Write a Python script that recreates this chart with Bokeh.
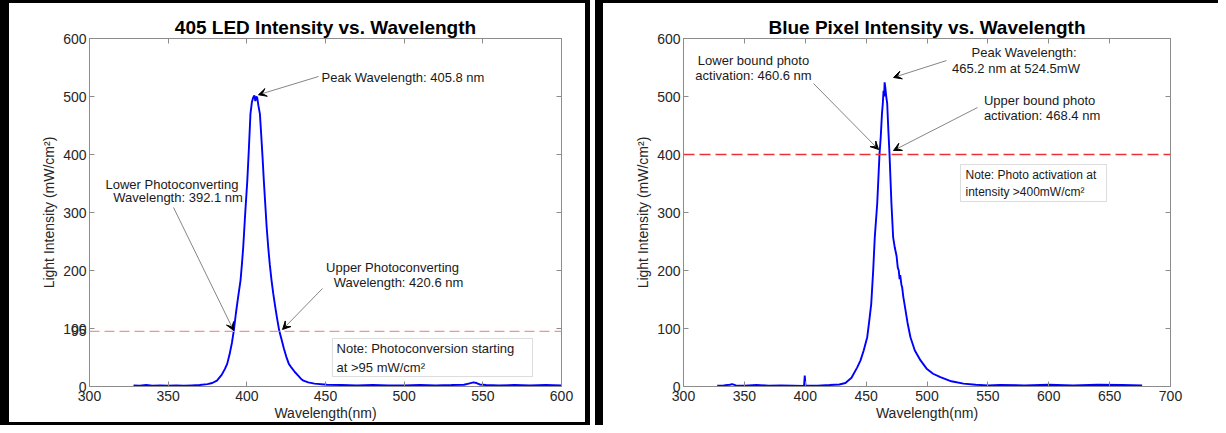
from bokeh.plotting import figure
from bokeh.models import (Span, Label, Arrow, VeeHead, BoxAnnotation, LinearAxis,
                          FixedTicker, Range1d)
from bokeh.layouts import row
from bokeh.embed import file_html
from bokeh.resources import INLINE

# ---------------- data: 405 LED spectrum ----------------
led_wl = [328, 332, 336, 340, 345, 350, 355, 360, 365, 370, 375, 378, 381, 384, 386,
          387.5, 389, 390.5, 391.7, 393, 394.5, 396, 397, 397.7, 399, 400.3, 401.3,
          402.3, 403.2, 404, 404.8, 405.4, 406, 406.6, 407.3, 408.3, 409, 410, 410.8,
          411.7, 412.6, 413.6, 414.6, 415.7, 416.8, 418, 419.2, 420.6, 422, 423.5, 425,
          426.7, 428.5, 430.5, 432.5, 434.5, 436, 439, 443, 451, 460, 470, 480, 490,
          500, 510, 520, 530, 538, 541, 544, 546, 548, 552, 560, 570, 580, 590, 600]
led_int = [2, 1.5, 2.5, 1.5, 2, 1.5, 2, 1.5, 2, 2.5, 4, 6, 10, 20, 30,
           39, 55, 75, 96, 125, 155, 183, 215, 240, 300, 355, 410,
           470, 490, 498, 502, 492, 500, 498, 485, 470, 440, 395, 355,
           315, 275, 240, 210, 183, 160, 138, 118, 96, 82, 66, 52,
           39, 32, 25, 19, 13, 10, 7, 5, 3, 2.5, 2, 2.5, 2,
           2, 2.5, 2, 2.5, 3, 5, 7, 6, 3.5, 2.5, 2, 2.5, 2, 2.5, 2]

# ---------------- data: blue pixel spectrum ----------------
pix_wl = [327.7, 333, 338, 340, 343, 350, 360, 370, 380, 390, 399, 399.6, 400.2, 410,
          420, 428, 433, 438, 442.7, 445.4, 448, 450.9, 452.5, 454.2, 455.8, 457.1,
          459.1, 461, 462, 463, 463.7, 464.3, 464.8, 465.2, 465.8, 466.5, 467.3, 468.3,
          469.2, 470.8, 472.2, 473.5, 475, 476, 476.8, 477.5, 478, 479, 479.6, 480.5,
          481.5, 484, 486.4, 490, 494.7, 500, 505, 511, 520, 530, 540, 550, 560, 580,
          600, 620, 640, 660, 676.7]
pix_int = [1.5, 2, 3, 4, 2, 1.5, 2.5, 1.5, 2, 1.5, 1, 19, 2, 1.5,
           2.5, 3.5, 6, 15, 33, 45, 62, 85, 112, 142.5, 200, 257,
           315, 401, 430, 470, 488, 510, 500, 524.5, 515, 500, 488, 440,
           401, 315, 257, 240, 225, 205, 200, 185, 192, 175, 171, 155,
           142.5, 110, 85, 62, 45, 30, 22, 16, 9, 5, 3, 2, 2.5, 2,
           3, 2, 3, 2.5, 2]

led_xticks = [300, 350, 400, 450, 500, 550, 600]
led_yticks = [0, 95, 100, 200, 300, 400, 500, 600]
pix_xticks = [300, 350, 400, 450, 500, 550, 600, 650, 700]
pix_yticks = [0, 100, 200, 300, 400, 500, 600]

led_threshold = 95
pix_threshold = 400

FONT = "Liberation Sans"
AX = "#8c8c8c"
TXT = "#262626"


def make_fig(title, xr, xticks, yticks, width, mbl, mbr):
    p = figure(width=width, height=425, x_range=Range1d(*xr), y_range=Range1d(0, 600),
               output_backend="svg", toolbar_location=None,
               min_border_left=mbl, min_border_right=mbr,
               min_border_top=35, min_border_bottom=42)
    p.grid.visible = False
    p.outline_line_color = AX
    p.background_fill_color = "white"
    p.border_fill_color = "white"
    p.title.text = title
    p.title.text_font = FONT
    p.title.text_font_size = "19px"
    p.title.text_font_style = "bold"
    p.title.text_color = "black"
    p.title.align = "center"
    p.title.standoff = 2
    for ax in (p.xaxis[0], p.yaxis[0]):
        ax.major_tick_in = 5
        ax.major_tick_out = 0
        ax.minor_tick_line_color = None
        ax.axis_line_color = AX
        ax.major_tick_line_color = AX
        ax.major_label_text_font = FONT
        ax.major_label_text_font_size = "14px"
        ax.major_label_text_color = TXT
        ax.major_label_standoff = 3
        ax.axis_label_text_font = FONT
        ax.axis_label_text_font_size = "14px"
        ax.axis_label_text_font_style = "normal"
        ax.axis_label_text_color = TXT
    p.xaxis[0].ticker = FixedTicker(ticks=xticks)
    p.yaxis[0].ticker = FixedTicker(ticks=yticks)
    p.xaxis[0].major_label_standoff = 4
    p.xaxis[0].axis_label = "Wavelength(nm)"
    p.xaxis[0].axis_label_standoff = 1
    p.yaxis[0].axis_label = "Light Intensity (mW/cm\u00b2)"
    p.yaxis[0].axis_label_standoff = 3
    # box ticks on top and right
    for loc, tk in (("above", xticks), ("right", yticks)):
        a = LinearAxis(ticker=FixedTicker(ticks=tk), major_tick_in=5, major_tick_out=0,
                       minor_tick_line_color=None, axis_line_color=AX,
                       major_tick_line_color=AX, major_label_text_font_size="0px",
                       major_label_standoff=0,
                       major_label_overrides={t: "" for t in tk})
        p.add_layout(a, loc)
    return p


def note(p, x, y, text, size="13px", align="center"):
    p.add_layout(Label(x=x, y=y, text=text, text_align=align, text_baseline="middle",
                       text_font=FONT, text_font_size=size, text_color="#1a1a1a"))


def arrow(p, xs, ys, xe, ye):
    p.add_layout(Arrow(end=VeeHead(size=8, fill_color="black", line_color="black"),
                       x_start=xs, y_start=ys, x_end=xe, y_end=ye,
                       line_color="#666666", line_width=0.8))


# ---------------- left panel ----------------
p1 = make_fig("405 LED Intensity vs. Wavelength", (300, 600), led_xticks, led_yticks,
              590, 80, 38)
p1.add_layout(Span(location=led_threshold, dimension="width", line_color="#f29494",
                   line_dash="10 5", line_width=1.3))
p1.line(led_wl, led_int, line_color="#0000ff", line_width=1.9)
p1.add_layout(BoxAnnotation(left=454.4, right=581.6, bottom=17.2, top=82.8,
                            fill_color="white", fill_alpha=1, line_color=AX,
                            line_width=1))
note(p1, 457, 65.5, "Note: Photoconversion starting", "13px", "left")
note(p1, 457, 32.8, "at >95 mW/cm\u00b2", "13px", "left")
note(p1, 447.5, 532.8, "Peak Wavelength: 405.8 nm", "13px", "left")
arrow(p1, 445.6, 534.5, 407.4, 503)
note(p1, 352.4, 348.3, "Lower Photoconverting")
note(p1, 356.3, 325.9, "Wavelength: 392.1 nm")
arrow(p1, 353.4, 308.6, 391.6, 96.6)
note(p1, 492.6, 205, "Upper Photoconverting")
note(p1, 496.4, 179.3, "Wavelength: 420.6 nm")
arrow(p1, 448.1, 169, 422.7, 98.3)

# ---------------- right panel ----------------
p2 = make_fig("Blue Pixel Intensity vs. Wavelength", (300, 700), pix_xticks, pix_yticks,
              623, 80, 56)
p2.add_layout(Span(location=pix_threshold, dimension="width", line_color="#f03030",
                   line_dash="11 5", line_width=1.3))
p2.line(pix_wl, pix_int, line_color="#0000ff", line_width=1.9)
p2.add_layout(BoxAnnotation(left=527.5, right=647.4, bottom=319, top=382.8,
                            fill_color="white", fill_alpha=1, line_color=AX,
                            line_width=1))
note(p2, 531.6, 365.5, "Note: Photo activation at", "12px", "left")
note(p2, 531.6, 334.5, "intensity >400mW/cm\u00b2", "12px", "left")
note(p2, 357.5, 562, "Lower bound photo")
note(p2, 357.5, 536.2, "activation: 460.6 nm")
arrow(p2, 406.8, 522.4, 460.2, 408.6)
note(p2, 579.7, 575.9, "Peak Wavelength:")
note(p2, 573.1, 548.3, "465.2 nm at 524.5mW")
arrow(p2, 516, 562, 472.5, 532.8)
note(p2, 592.5, 493, "Upper bound photo")
note(p2, 594.5, 467.2, "activation: 468.4 nm")
arrow(p2, 541.5, 481, 472.5, 406.9)

p1.styles = {"border-left": "9px solid black", "border-top": "3px solid black",
             "border-right": "5px solid black", "border-bottom": "3px solid black"}
p2.styles = {"border-left": "8px solid black", "border-top": "3px solid black"}

layout = row(p1, p2, spacing=5)
open("out.html", "w").write(file_html(layout, INLINE))
